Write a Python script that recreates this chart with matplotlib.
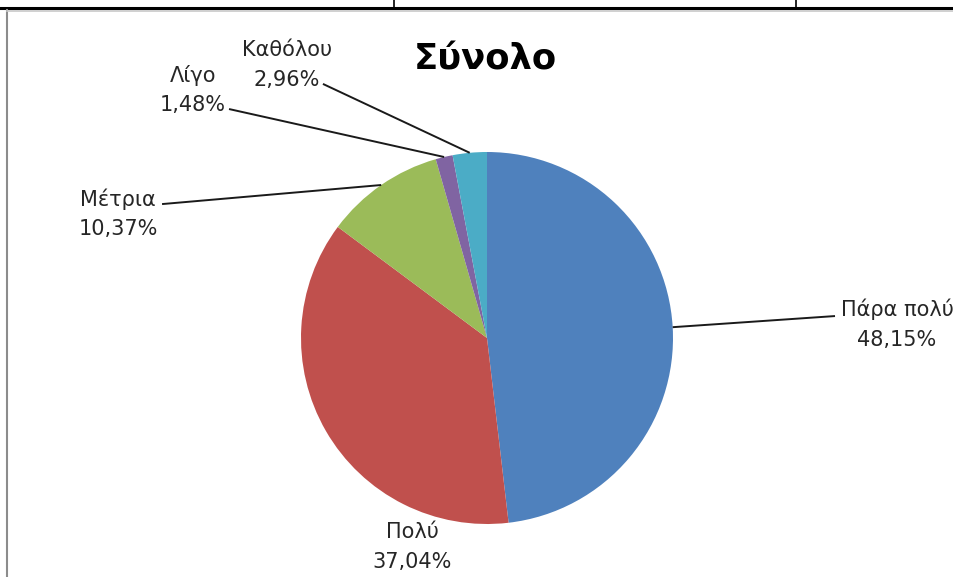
import matplotlib
matplotlib.use("Agg")
import matplotlib.pyplot as plt
import numpy as np
from matplotlib.lines import Line2D

plt.rcParams['font.family'] = ['DejaVu Sans']

categories = ["Πάρα πολύ", "Πολύ", "Μέτρια", "Λίγο", "Καθόλου"]
counts = [65, 50, 14, 2, 4]
colors = ["#4F81BD", "#C0504D", "#9BBB59", "#8064A2", "#4BACC6"]
title = "Σύνολο"

# label layout (data coords, pie radius = 1)
text_pos = [(2.204, 0.075), (-0.403, -1.124), (-1.984, 0.667), (-1.581, 1.333), (-1.075, 1.468)]
line_end = [(1.871, 0.118), None, (-1.747, 0.720), (-1.387, 1.231), (-0.882, 1.366)]

W, H = 954, 577
fig = plt.figure(figsize=(W / 100, H / 100), dpi=100)
fig.patch.set_facecolor("white")

cx, cy, r = 487, 338, 186
ax = fig.add_axes([(cx - r) / W, (H - cy - r) / H, 2 * r / W, 2 * r / H])
wedges, _ = ax.pie(counts, colors=colors, startangle=90, counterclock=False,
                   radius=1, wedgeprops=dict(edgecolor="none"))
ax.set_xlim(-1, 1)
ax.set_ylim(-1, 1)
ax.set_aspect("equal")
ax.axis("off")

total = sum(counts)
for w, name, c, tp, le in zip(wedges, categories, counts, text_pos, line_end):
    pct = 100 * c / total
    label = f"{name}\n{pct:.2f}%".replace(".", ",")
    ax.text(tp[0], tp[1], label, ha="center", va="center", fontsize=15,
            color="#262626", linespacing=1.6, clip_on=False)
    if le is not None:
        ang = np.deg2rad((w.theta1 + w.theta2) / 2)
        ax.plot([np.cos(ang), le[0]], [np.sin(ang), le[1]], color="#1a1a1a",
                lw=1.4, clip_on=False, solid_capstyle="butt")

fig.text(485 / W, 1 - 60 / H, title, ha="center", va="center", fontsize=25.5,
         fontweight="bold", color="black")

# table fragment and chart frame
fig.add_artist(Line2D([0, 1], [1 - 7.5 / H] * 2, color="black", lw=2.2, transform=fig.transFigure))
for xv in (394, 796):
    fig.add_artist(Line2D([xv / W] * 2, [1, 1 - 7 / H], color="black", lw=1.2, transform=fig.transFigure))
fig.add_artist(Line2D([7.5 / W] * 2, [1 - 10 / H, 0], color="#8c8c8c", lw=1.5, transform=fig.transFigure))
fig.add_artist(Line2D([7.5 / W, 1], [1 - 10.5 / H] * 2, color="#c8c8c8", lw=1.2, transform=fig.transFigure))

fig.savefig("out.png", dpi=100, facecolor="white")
